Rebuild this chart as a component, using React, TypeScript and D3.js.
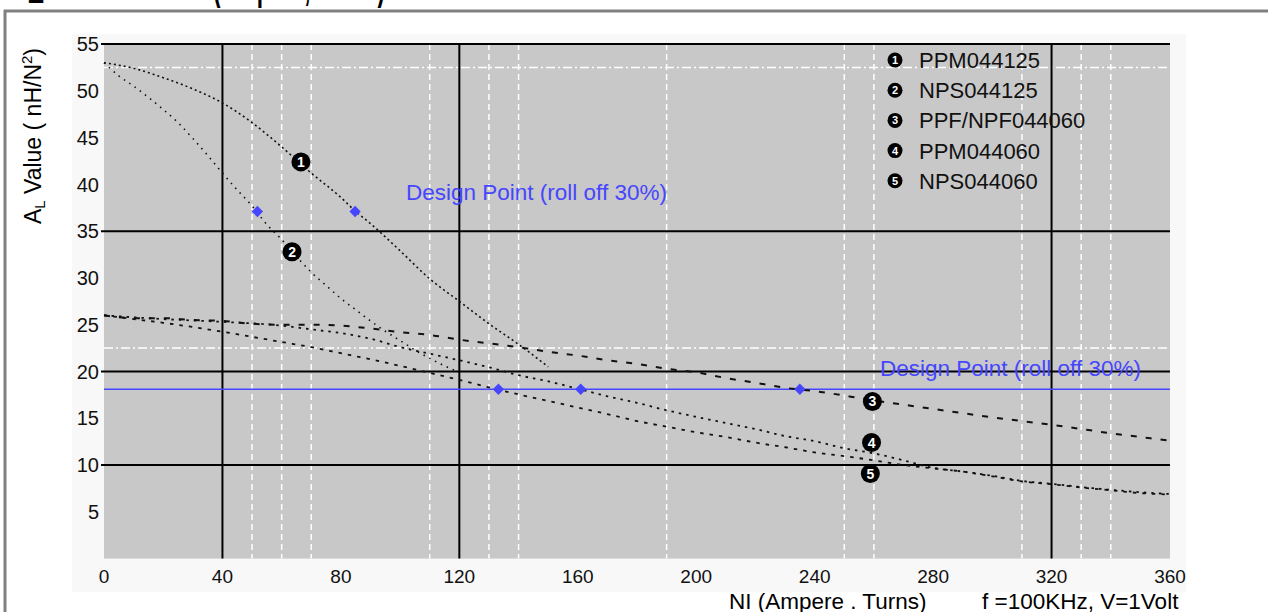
import React from "react";
import * as d3 from "d3";

const xTicks = [0, 40, 80, 120, 160, 200, 240, 280, 320, 360];
const yTicks = [5, 10, 15, 20, 25, 30, 35, 40, 45, 50, 55];
const majorX = [40, 120, 320];
const majorY = [55, 35, 20, 10];
const minorX = [50, 60, 70, 110, 130, 140, 190, 250, 260, 310, 330, 340];
const minorY = [52.5, 22.5];

const legendNames = ["PPM044125", "NPS044125", "PPF/NPF044060", "PPM044060", "NPS044060"];

const curve1: [number, number][] = [
  [0, 53], [10, 52.4], [20, 51.4], [30, 50.2], [40, 48.7], [50, 46.6], [60, 44.0], [70, 41.2],
  [80, 38.6], [85, 37.1], [90, 35.8], [100, 32.9], [110, 29.9], [120, 27.5], [130, 25.1], [140, 22.9], [150, 20.5],
];
const curve2: [number, number][] = [
  [0, 53], [5, 51.6], [10, 50.5], [15, 49.3], [20, 48.0], [25, 46.6], [30, 44.9], [35, 43.1], [40, 41.2],
  [45, 39.4], [50, 37.7], [55, 35.7], [60, 34.1], [65, 32.3], [70, 30.6], [75, 29.2], [80, 27.8], [85, 26.6],
  [90, 25.4], [95, 24.3], [100, 23.3], [105, 22.3], [110, 21.4], [115, 20.6], [120, 19.9],
];
const curve3: [number, number][] = [
  [0, 26], [10, 25.7], [20, 25.7], [30, 25.5], [40, 25.4], [50, 25.1], [60, 25.0], [70, 25.0], [80, 24.9],
  [90, 24.6], [100, 24.2], [110, 23.9], [120, 23.4], [130, 23.0], [140, 22.6], [150, 22.1], [160, 21.7],
  [170, 21.2], [180, 20.8], [190, 20.3], [200, 19.9], [210, 19.3], [220, 18.8], [230, 18.25], [240, 17.9],
  [260, 16.9], [280, 16.0], [300, 15.1], [320, 14.3], [340, 13.4], [360, 12.6],
];
const curve4: [number, number][] = [
  [0, 26], [20, 25.6], [40, 25.3], [60, 24.9], [70, 24.5], [80, 24.1], [90, 23.5], [100, 22.6], [110, 21.9],
  [120, 21.2], [130, 20.45], [140, 19.6], [150, 18.95], [160, 18.15], [170, 17.35], [180, 16.65], [190, 15.85],
  [200, 15.15], [210, 14.5], [220, 13.85], [230, 13.1], [240, 12.55], [250, 11.8], [260, 11.25], [270, 10.5],
  [280, 9.7], [290, 9.3], [300, 8.85], [310, 8.3], [320, 8.0], [330, 7.65], [340, 7.35], [350, 7.1], [360, 6.9],
];
const curve5: [number, number][] = [
  [0, 26], [10, 25.6], [20, 25.2], [30, 24.75], [40, 24.25], [50, 23.7], [60, 23.15], [70, 22.6], [80, 21.95],
  [90, 21.3], [100, 20.6], [110, 19.85], [120, 19.1], [130, 18.3], [140, 17.55], [150, 16.85], [160, 16.15],
  [170, 15.45], [180, 14.7], [190, 14.1], [200, 13.5], [210, 13.0], [220, 12.4], [230, 11.9], [240, 11.35],
  [250, 10.95], [260, 10.5], [270, 10.0], [280, 9.65], [290, 9.3], [300, 8.8], [310, 8.25], [320, 7.95],
  [330, 7.6], [340, 7.3], [350, 7.0], [360, 6.85],
];
const curves = [curve1, curve2, curve3, curve4, curve5];
const dashes = ["2,3", "1.5,5", "6,9", "2.5,5", "3.5,6"];
const widths = [1.6, 1.6, 2, 1.8, 1.8];

const designLevel = 18.1;
const designUpper: [number, number][] = [[51.8, 37.1], [84.8, 37.1]];
const designLower: [number, number][] = [[133.2, 18.1], [161, 18.1], [235, 18.1]];
const curveMarkers: [number, number][] = [[66.5, 42.4], [63.5, 32.8], [259.5, 16.8], [259.2, 12.4], [258.8, 9.1]];

const FONT = "'Liberation Sans', Arial, sans-serif";
const BLUE = "#4646ff";

export default function App() {
  const x = d3.scaleLinear().domain([0, 360]).range([104, 1170]);
  const y = d3.scaleLinear().domain([0, 55]).range([558.6, 44]);
  const line = d3
    .line<[number, number]>()
    .x((d) => x(d[0]))
    .y((d) => y(d[1]))
    .curve(d3.curveMonotoneX);
  const diamond = d3.symbol().type(d3.symbolSquare).size(64)();

  return (
    <svg
      width={1268}
      height={612}
      style={{ position: "absolute", left: 0, top: 0, background: "#fff" }}
      fontFamily={FONT}
    >
      {/* partial title cut off at top */}
      <text y={-1} fontSize={44} fontWeight="bold" fill="#000">
        <tspan x={0}>A</tspan>
        <tspan x={27} fontSize={28} dy={4}>L</tspan>
        <tspan dy={-4}> vs. NI</tspan>
      </text>
      <text x={213} y={-1} fontSize={44} fontWeight="bold" fill="#000" textLength={172} lengthAdjust="spacingAndGlyphs">
        (Ampere, Turns)
      </text>

      {/* frame */}
      <line x1={4} x2={1268} y1={11} y2={11} stroke="#808080" strokeWidth={3} />
      <line x1={5} x2={5} y1={10} y2={612} stroke="#808080" strokeWidth={3} />

      {/* light panel */}
      <rect x={72} y={34} width={1114} height={558} fill="#f8f8f8" />

      {/* plot area */}
      <rect x={x(0)} y={y(55)} width={x(360) - x(0)} height={y(0) - y(55)} fill="#c8c8c8" />

      {/* minor white grid */}
      {minorX.map((v) => (
        <line key={"mx" + v} x1={x(v)} x2={x(v)} y1={y(55)} y2={y(0)} stroke="#fff" strokeWidth={1.5} strokeDasharray="6,4" />
      ))}
      {minorY.map((v) => (
        <line key={"my" + v} x1={x(0)} x2={x(360)} y1={y(v)} y2={y(v)} stroke="#fff" strokeWidth={1.5} strokeDasharray="9,3,2,3" />
      ))}

      {/* major black grid */}
      {majorX.map((v) => (
        <line key={"MX" + v} x1={x(v)} x2={x(v)} y1={y(55)} y2={y(0)} stroke="#000" strokeWidth={2} />
      ))}
      {majorY.map((v) => (
        <line key={"MY" + v} x1={x(0) - 3} x2={x(360)} y1={y(v)} y2={y(v)} stroke="#000" strokeWidth={2} />
      ))}

      {/* design level line */}
      <line x1={x(0)} x2={x(360)} y1={y(designLevel)} y2={y(designLevel)} stroke={BLUE} strokeWidth={1.5} />

      {/* curves */}
      {curves.map((c, i) => (
        <path key={"c" + i} d={line(c) || ""} fill="none" stroke="#111" strokeWidth={widths[i]} strokeDasharray={dashes[i]} />
      ))}

      {/* design points */}
      {[...designUpper, ...designLower].map((p, i) => (
        <path key={"d" + i} d={diamond || ""} transform={`translate(${x(p[0])},${y(p[1])}) rotate(45)`} fill={BLUE} />
      ))}

      {/* curve markers */}
      {curveMarkers.map((p, i) => (
        <g key={"m" + i} transform={`translate(${x(p[0])},${y(p[1])})`}>
          <circle r={9.5} fill="#000" />
          <text textAnchor="middle" dy="0.36em" fontSize={14} fontWeight="bold" fill="#fff">
            {i + 1}
          </text>
        </g>
      ))}

      {/* design labels */}
      <text x={406} y={200} fontSize={22.5} fill={BLUE}>Design Point (roll off 30%)</text>
      <text x={880} y={376} fontSize={22.5} fill={BLUE}>Design Point (roll off 30%)</text>

      {/* legend */}
      {legendNames.map((n, i) => {
        const cy = 60 + i * 30.2;
        return (
          <g key={"l" + i}>
            <circle cx={895} cy={cy} r={7.5} fill="#000" />
            <text x={895} y={cy} textAnchor="middle" dy="0.36em" fontSize={11} fontWeight="bold" fill="#fff">
              {i + 1}
            </text>
            <text x={919} y={cy} dy="0.36em" fontSize={22} fill="#111">{n}</text>
          </g>
        );
      })}

      {/* y ticks */}
      {yTicks.map((v) => (
        <text key={"yt" + v} x={99} y={y(v)} dy="0.36em" textAnchor="end" fontSize={20} fill="#111">
          {v}
        </text>
      ))}
      {/* x ticks */}
      {xTicks.map((v) => (
        <text key={"xt" + v} x={x(v)} y={583} textAnchor="middle" fontSize={19} fill="#111">
          {v}
        </text>
      ))}

      {/* axis titles */}
      <text transform="translate(41,136) rotate(-90)" textAnchor="middle" fontSize={23} fill="#000">
        <tspan>A</tspan>
        <tspan fontSize={15} dy={4}>L</tspan>
        <tspan dy={-4}> Value ( nH/N</tspan>
        <tspan fontSize={15} dy={-9}>2</tspan>
        <tspan dy={9}>)</tspan>
      </text>
      <text x={729} y={609} fontSize={22.5} fill="#000">NI (Ampere . Turns)</text>
      <text x={982} y={609} fontSize={22.5} fill="#000">f =100KHz, V=1Volt</text>
    </svg>
  );
}
